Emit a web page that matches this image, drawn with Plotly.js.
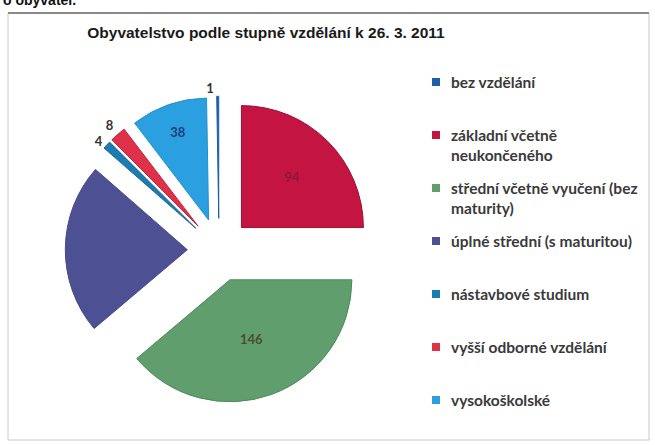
<!DOCTYPE html>
<html>
<head>
<meta charset="utf-8">
<script src="https://cdn.plot.ly/plotly-3.0.1.min.js"></script>
<style>html,body{margin:0;padding:0;background:#fff;}#chart{width:655px;height:445px;}</style>
</head>
<body>
<div id="chart"></div>
<script>
// Data (legend order = data order)
const categories = [
  "bez vzdělání",
  "základní včetně neukončeného",
  "střední včetně vyučení (bez maturity)",
  "úplné střední (s maturitou)",
  "nástavbové studium",
  "vyšší odborné vzdělání",
  "vysokoškolské"
];
const legendLabels = [
  "bez vzdělání",
  "základní včetně<br>neukončeného",
  "střední včetně vyučení (bez<br>maturity)",
  "úplné střední (s maturitou)",
  "nástavbové studium",
  "vyšší odborné vzdělání",
  "vysokoškolské"
];
const values = [1, 94, 146, 85, 4, 8, 38];
const colors = ["#1F5FA6", "#C41442", "#609E6E", "#4E5094", "#1C7BB0", "#E0314A", "#2AA0E0"];
const lineColors = ["#1F5FA6", "#9A1034", "#4C8A5A", "#454A88", "#1C6A9A", "#C02238", "#2590CC"];
const labelColors = ["#333333", "#8A1A3A", "#4A4E2E", "#4E5094", "#333333", "#333333", "#1F3F78"];
const textPos = ["outside", "inside", "inside", "inside", "outside", "outside", "inside"];

const W = 655, H = 445;
const px = x => x / W;
const py = y => 1 - y / H;

const total = values.reduce((a, b) => a + b, 0);

const trace = {
  type: "pie",
  labels: categories,
  values: values,
  sort: false,
  direction: "clockwise",
  rotation: -360 * values[0] / total,
  pull: values.map(() => 0.26),
  marker: { colors: colors, line: { color: lineColors, width: 1 } },
  textinfo: "value",
  textposition: textPos,
  insidetextorientation: "horizontal",
  textfont: { family: "Lato", size: 13, weight: "bold", color: labelColors },
  domain: { x: [px(65.3), px(372.7)], y: [py(403.7), py(96.3)] },
  showlegend: false,
  hoverinfo: "label+value"
};

const shapes = [
  { type: "rect", xref: "paper", yref: "paper", x0: px(8), x1: px(649), y0: py(440), y1: py(13),
    line: { color: "#c8c8c8", width: 1 } },
  { type: "line", xref: "paper", yref: "paper", x0: px(8), x1: px(649), y0: py(13), y1: py(13),
    line: { color: "#8a8a8a", width: 2 } }
];
const annotations = [
  { text: "o obyvatel.", xref: "paper", yref: "paper", x: px(1), y: py(10), xanchor: "left", yanchor: "bottom",
    showarrow: false, font: { family: "Liberation Sans", size: 14, weight: "bold", color: "#111" } }
];

// manual legend built from the arrays
const legendTop = 82, legendStep = 53;
legendLabels.forEach((lab, i) => {
  const cy = legendTop + i * legendStep;
  shapes.push({ type: "rect", xref: "paper", yref: "paper",
    x0: px(432), x1: px(440), y0: py(cy + 4), y1: py(cy - 4),
    fillcolor: colors[i], line: { width: 0 } });
  annotations.push({ text: lab, xref: "paper", yref: "paper", x: px(449), y: py(cy - 11),
    xanchor: "left", yanchor: "top", align: "left", showarrow: false,
    font: { family: "Lato", size: 15.5, weight: "bold", color: "#3a3a3a" } });
});

const layout = {
  width: W, height: H,
  margin: { l: 0, r: 0, t: 0, b: 0 },
  paper_bgcolor: "#ffffff",
  title: { text: "Obyvatelstvo podle stupně vzdělání k 26. 3. 2011",
    xref: "container", yref: "container", x: px(266), xanchor: "center", y: py(33), yanchor: "middle",
    font: { family: "Liberation Sans", size: 15.5, weight: "bold", color: "#1a1a1a" } },
  showlegend: false,
  shapes: shapes,
  annotations: annotations
};

Plotly.newPlot("chart", [trace], layout, { displayModeBar: false, staticPlot: true }).then(gd => {
  gd.querySelectorAll(".textline").forEach(el => el.remove());
});
</script>
</body>
</html>
